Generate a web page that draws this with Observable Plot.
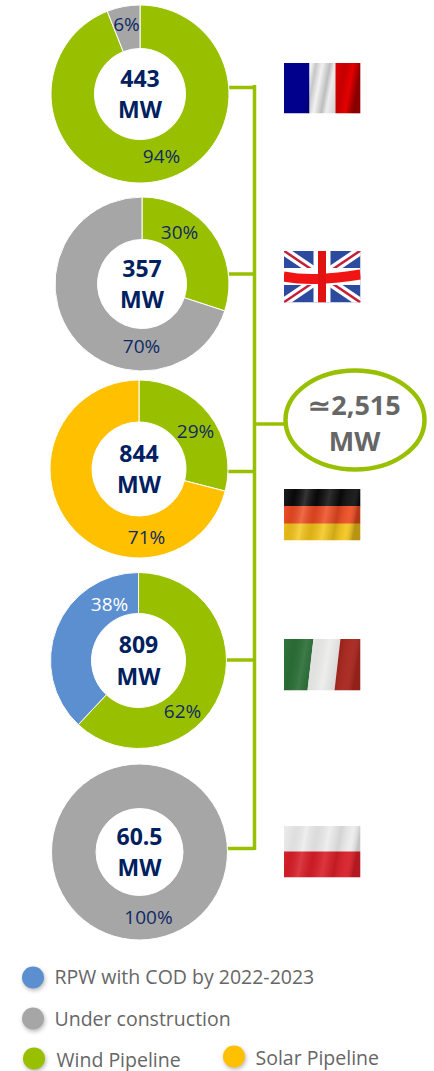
<!DOCTYPE html>
<html><head><meta charset="utf-8">
<script src="https://cdn.jsdelivr.net/npm/d3@7"></script>
<script src="https://cdn.jsdelivr.net/npm/@observablehq/plot@0.6"></script>
<style>
html,body{margin:0;padding:0;background:#fff}
svg{display:block}
.shadow{filter:drop-shadow(1px 2px 2px rgba(0,0,0,.28))}
</style></head><body><div id="c"></div>
<script>
// ---- data
const countries = ["France","UK","Germany","Italy","Poland"];
const totals = ["443","357","844","809","60.5"];
const wind = [94,30,29,62,0];
const construction = [6,70,0,0,100];
const solar = [0,0,71,0,0];
const rpw = [0,0,0,38,0];
const grandTotal = "≃2,515\nMW";
const legendLabels = ["RPW with COD by 2022-2023","Under construction","Wind Pipeline","Solar Pipeline"];
const categories = ["RPW","Construction","Wind","Solar"];
const colors = ["#5b8fd0","#a6a6a6","#99c000","#ffc000"];

// ---- layout (pixel space of the slide)
const W = 434, H = 1071;
const centers = [[140,94,89,45.5],[142,284,87,44.5],[139,469,89,47],[138.5,660.5,88,47],[139.5,852,88,43.5]];
const pctPos = {France:{Wind:[161,156],Construction:[126,24]},UK:{Wind:[179,232],Construction:[141,346]},
  Germany:{Wind:[195,431],Solar:[146,537]},Italy:{Wind:[182,711],RPW:[109,604]},Poland:{Construction:[148,917]}};
const flagBoxes = [[283,62,77,51],[283,250,77,52],[283,488,77,52],[283,638,77,52],[283,825,77,52]];
const spineX = 254;
const branchY = [[229,87],[229,273.5],[228,471],[226,659.5],[227,848]];

// ---- slices in clockwise drawing order per donut
const seriesOf = {Wind:wind,Construction:construction,Solar:solar,RPW:rpw};
const order = ["Wind","Construction","Solar","RPW"];
const slices = [], labels = [];
countries.forEach((c,i)=>{
  let a = 0;
  const [cx,cy,ro,ri] = centers[i];
  for (const k of order) {
    const v = seriesOf[k][i];
    if (!v) continue;
    slices.push({country:c,category:k,cx,cy,ro,ri,a0:a/100*2*Math.PI,a1:(a+v)/100*2*Math.PI});
    a += v;
    const [lx,ly] = pctPos[c][k];
    labels.push({x:lx,y:ly,text:v+"%",category:k});
  }
});

function renderArcs(index,scales,values){
  const g = d3.create("svg:g");
  const arc = d3.arc();
  for (const i of index){
    const s = slices[i];
    g.append("path")
     .attr("transform",`translate(${values.x[i]},${values.y[i]})`)
     .attr("d",arc({innerRadius:s.ri,outerRadius:s.ro,startAngle:s.a0,endAngle:s.a1}))
     .attr("fill",values.fill[i])
     .attr("stroke","#fff").attr("stroke-width",1);
  }
  return g.node();
}
function renderEllipse(index,scales,values){
  const g = d3.create("svg:g");
  for (const i of index){
    g.append("ellipse").attr("cx",values.x[i]).attr("cy",values.y[i])
     .attr("rx",69.5).attr("ry",49.5).attr("fill","#fff").attr("stroke","#99c000").attr("stroke-width",4.5);
  }
  return g.node();
}

// ---- flags, as small SVG pictures
const uri = s => "data:image/svg+xml;utf8,"+encodeURIComponent(`<svg xmlns="http://www.w3.org/2000/svg" viewBox="0 0 77 52" preserveAspectRatio="none">${s}</svg>`);
const wave = (id,stops)=>`<defs><linearGradient id="${id}" x1="0" x2="1" y1="0" y2="0.12">${stops.map(([o,c,a])=>`<stop offset="${o}" stop-color="${c}" stop-opacity="${a}"/>`).join("")}</linearGradient></defs>`;
const shade = [[0,"#fff",.08],[.15,"#000",.08],[.3,"#fff",.18],[.45,"#000",.1],[.6,"#fff",.15],[.75,"#000",.15],[.9,"#fff",.08],[1,"#000",.25]];
const flagSrc = [
 uri(`${wave("a",[[0,"#000",0],[.36,"#000",.0],[.42,"#000",.18],[.5,"#000",0],[.6,"#000",.22],[.66,"#000",.02],[.8,"#000",.15],[.9,"#000",0],[1,"#000",.4]])}<rect width="26" height="52" fill="#00008c"/><rect x="26" width="26" height="52" fill="#f2f2f2"/><rect x="52" width="25" height="52" fill="#e60000"/><rect width="77" height="52" fill="url(#a)"/>`),
 uri(`<rect width="77" height="52" fill="#2c4a9e"/><path d="M0 0L77 52M77 0L0 52" stroke="#fff" stroke-width="9"/><path d="M0 0L77 52M77 0L0 52" stroke="#c4203a" stroke-width="2.5"/><path d="M38.5 0V52M0 26H77" stroke="#fff" stroke-width="17"/><path d="M0 26C25 31 50 28 77 24" stroke="#f01414" stroke-width="10" fill="none"/><path d="M38.5 0V52" stroke="#e01212" stroke-width="8"/>`),
 uri(`${wave("g",shade)}<rect width="77" height="18" fill="#0a0a0a"/><rect y="17.5" width="77" height="18" fill="#ee4a20"/><rect y="35" width="77" height="17" fill="#f5c518"/><rect width="77" height="52" fill="url(#g)"/>`),
 uri(`${wave("i",shade)}<path d="M0 0H30L24 52H0Z" fill="#2a6e36"/><path d="M30 0H57L51 52H24Z" fill="#ececea"/><path d="M57 0H77V52H51Z" fill="#a8261e"/><rect width="77" height="52" fill="url(#i)" opacity=".5"/>`),
 uri(`${wave("p",shade)}<rect width="77" height="27" fill="#ececec"/><rect y="26" width="77" height="26" fill="#d81e28"/><rect width="77" height="52" fill="url(#p)" opacity=".7"/>`)
];
const flags = countries.map((c,i)=>({x:flagBoxes[i][0]+flagBoxes[i][2]/2,y:flagBoxes[i][1]+flagBoxes[i][3]/2,w:flagBoxes[i][2],h:flagBoxes[i][3],src:flagSrc[i]}));

const legend = [
 {cat:"RPW",x:32.5,y:977,label:legendLabels[0],tx:54,ty:977},
 {cat:"Construction",x:32.5,y:1018,label:legendLabels[1],tx:54,ty:1019},
 {cat:"Wind",x:33.5,y:1058,label:legendLabels[2],tx:56,ty:1060},
 {cat:"Solar",x:233.5,y:1056,label:legendLabels[3],tx:255,ty:1058}
];
const totalsData = countries.map((c,i)=>({x:centers[i][0]-0.5,y:centers[i][1]-2,text:totals[i]+"\nMW"}));

const spine = [{x:spineX,y1:85,y2:850}];
const branches = branchY.map(([x1,y])=>({x1,x2:spineX,y}));

const fontFamily = "'Open Sans', sans-serif";
const chart = Plot.plot({
  width:W,height:H,margin:0,
  x:{domain:[0,W],range:[0,W],axis:null},
  y:{domain:[0,H],range:[0,H],axis:null},
  color:{domain:categories,range:colors},
  style:{background:"#fff",fontFamily},
  marks:[
    Plot.ruleY(branches,{y:"y",x1:"x1",x2:"x2",stroke:"#99c000",strokeWidth:3.5}),
    Plot.ruleX(spine,{x:"x",y1:"y1",y2:"y2",stroke:"#99c000",strokeWidth:3.5}),
    Plot.ruleY([{y:423.5,x1:spineX,x2:286}],{y:"y",x1:"x1",x2:"x2",stroke:"#99c000",strokeWidth:3.5}),
    Plot.dot(slices,{x:"cx",y:"cy",fill:"category",r:1,render:renderArcs}),
    Plot.text(labels.filter(d=>d.category!=="RPW"),{x:"x",y:"y",text:"text",fontSize:19,fill:"#0f2a63"}),
    Plot.text(labels.filter(d=>d.category==="RPW"),{x:"x",y:"y",text:"text",fontSize:19,fill:"#ffffff"}),
    Plot.text(totalsData,{x:"x",y:"y",text:"text",fontSize:23,fontWeight:700,fill:"#002060",lineHeight:1.36}),
    Plot.dot([{x:355,y:420}],{x:"x",y:"y",r:1,render:renderEllipse}),
    Plot.text([{x:354,y:421,t:grandTotal}],{x:"x",y:"y",text:"t",fontSize:27,fontWeight:700,fill:"#666666",lineHeight:1.35}),
    Plot.image(flags,{x:"x",y:"y",width:"w",height:"h",src:"src",preserveAspectRatio:"none"}),
    Plot.dot(legend,{x:"x",y:"y",r:11,fill:"cat",className:"shadow"}),
    Plot.text(legend,{x:"tx",y:"ty",text:"label",textAnchor:"start",fontSize:19.5,fill:"#666666"})
  ]
});
document.getElementById("c").append(chart);
</script></body></html>
